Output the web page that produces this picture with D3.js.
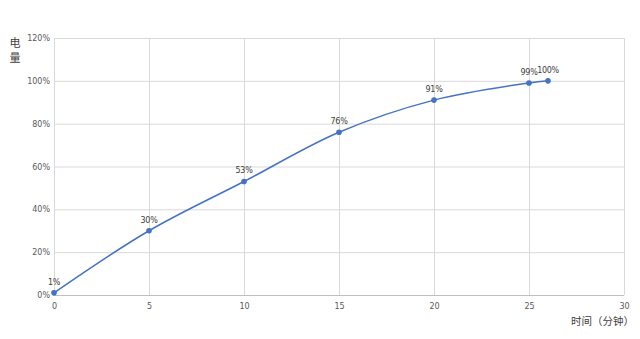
<!DOCTYPE html>
<html>
<head>
<meta charset="utf-8">
<script src="https://cdn.jsdelivr.net/npm/d3@7"></script>
<style>
  body { margin: 0; background: #fff; }
  text { font-family: "Noto Sans CJK SC", "DejaVu Sans", sans-serif; }
</style>
</head>
<body>
<div id="canvas"></div>
<script>
// data
const minutes = [0, 5, 10, 15, 20, 25, 26];
const charge = [1, 30, 53, 76, 91, 99, 100];
const xTicks = [0, 5, 10, 15, 20, 25, 30];
const yTicks = [0, 20, 40, 60, 80, 100, 120];

const width = 640;
const height = 339;
const margin = { top: 38, left: 54, bottom: 44, right: 16 };
const iwidth = width - margin.left - margin.right;
const iheight = height - margin.top - margin.bottom;

const svg = d3.select("#canvas").append("svg")
  .attr("width", width)
  .attr("height", height);

const g = svg.append("g")
  .attr("transform", `translate(${margin.left},${margin.top})`);

const x = d3.scaleLinear().domain([0, 30]).range([0, iwidth]);
const y = d3.scaleLinear().domain([0, 120]).range([iheight, 0]);

// gridlines
g.append("g")
  .selectAll("line.h")
  .data(yTicks)
  .enter()
  .append("line")
  .attr("x1", 0)
  .attr("x2", iwidth)
  .attr("y1", d => y(d) + 0.5)
  .attr("y2", d => y(d) + 0.5)
  .style("stroke", d => d === 0 ? "#bfbfbf" : "#d9d9d9");

g.append("g")
  .selectAll("line.v")
  .data(xTicks)
  .enter()
  .append("line")
  .attr("x1", d => x(d) + 0.5)
  .attr("x2", d => x(d) + 0.5)
  .attr("y1", 0)
  .attr("y2", iheight)
  .style("stroke", "#d9d9d9");

// axes (labels only)
const xAxis = g.append("g")
  .attr("transform", `translate(0,${iheight})`)
  .call(d3.axisBottom(x).tickValues(xTicks).tickSize(0).tickPadding(8));
const yAxis = g.append("g")
  .call(d3.axisLeft(y).tickValues(yTicks).tickSize(0).tickPadding(4).tickFormat(d => d + "%"));

[xAxis, yAxis].forEach(a => {
  a.select(".domain").remove();
  a.selectAll("text")
    .style("font-family", "'DejaVu Sans', sans-serif")
    .style("font-size", "8px")
    .style("fill", "#595959");
});

// series
const pts = minutes.map((m, i) => ({ m: m, v: charge[i] }));

const line = d3.line()
  .x(d => x(d.m))
  .y(d => y(d.v))
  .curve(d3.curveCatmullRom.alpha(0.5));

g.append("path")
  .datum(pts)
  .attr("d", line)
  .style("fill", "none")
  .style("stroke", "#4472c4")
  .style("stroke-width", 1.5);

g.selectAll(".dot")
  .data(pts)
  .enter()
  .append("circle")
  .attr("class", "dot")
  .attr("r", 2.8)
  .attr("cx", d => x(d.m))
  .attr("cy", d => y(d.v))
  .style("fill", "#4472c4");

g.selectAll(".lbl")
  .data(pts)
  .enter()
  .append("text")
  .attr("class", "lbl")
  .attr("x", d => x(d.m))
  .attr("y", d => y(d.v) - 8)
  .style("text-anchor", "middle")
  .style("font-family", "'DejaVu Sans', sans-serif")
  .style("font-size", "8px")
  .style("letter-spacing", "-0.3px")
  .style("fill", "#404040")
  .text(d => d.v + "%");

// axis titles
svg.append("text")
  .attr("x", 15)
  .attr("y", 47)
  .style("text-anchor", "middle")
  .style("font-size", "11px")
  .style("fill", "#404040")
  .text("电");
svg.append("text")
  .attr("x", 15)
  .attr("y", 62)
  .style("text-anchor", "middle")
  .style("font-size", "11px")
  .style("fill", "#404040")
  .text("量");

svg.append("text")
  .attr("x", 634)
  .attr("y", 325)
  .style("text-anchor", "end")
  .style("font-size", "10.5px")
  .style("fill", "#404040")
  .text("时间（分钟）");
</script>
</body>
</html>
